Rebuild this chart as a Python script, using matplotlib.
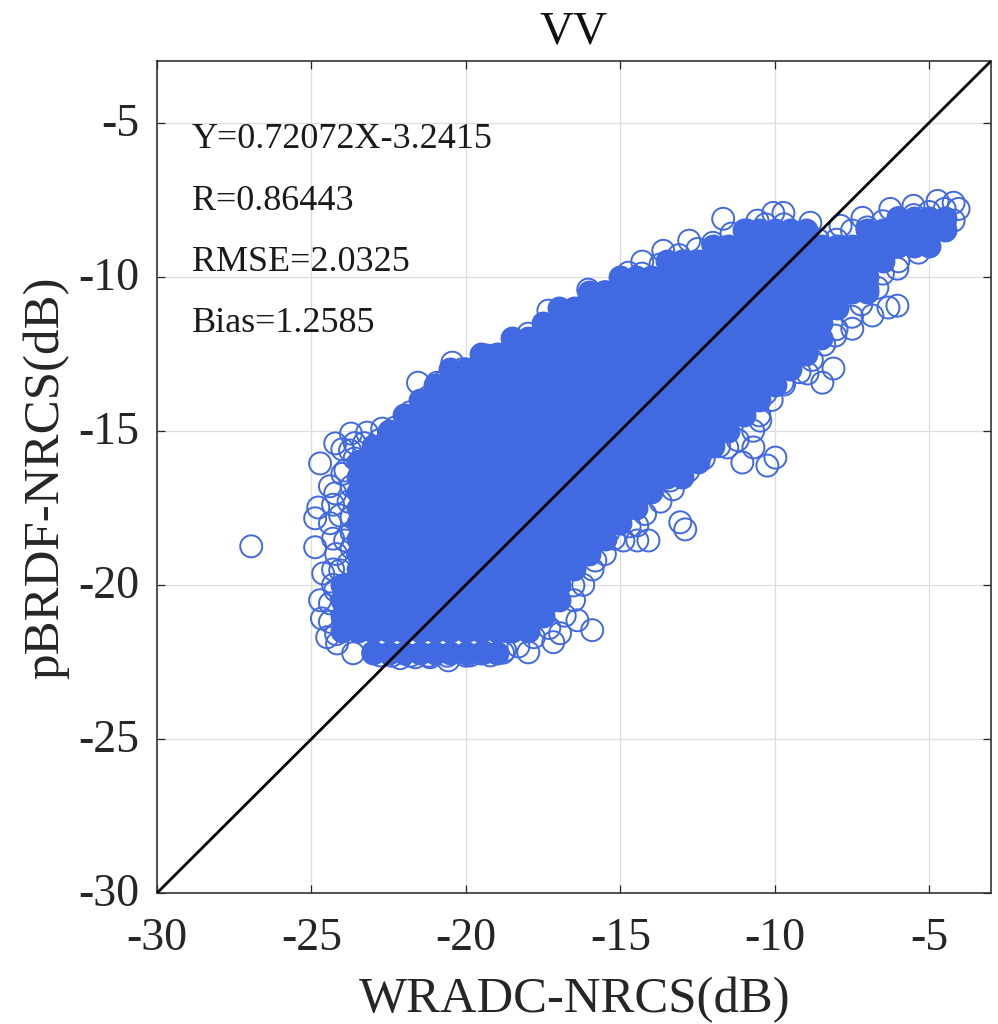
import matplotlib
matplotlib.use("Agg")
import matplotlib.pyplot as plt
from matplotlib.transforms import ScaledTranslation

title = "VV"
xlabel = "WRADC-NRCS(dB)"
ylabel = "pBRDF-NRCS(dB)"
ticks = [-30, -25, -20, -15, -10, -5]
notes = ["Y=0.72072X-3.2415", "R=0.86443", "RMSE=2.0325", "Bias=1.2585"]
note_y = [-5.82, -7.82, -9.82, -11.8]
refline = [-30, -3]

# Outer points
edge_x = [-26.95,-24.72,-24.23,-23.72,-23.2,-22.71,-24.23,-24.78,-24.88,-24.88,-24.62,-24.72,-24.66,-24.49,-24.17,-23.65,
          -21.55,-20.44,-20.93,-21.38,-19.31,-18.5,-17.98,-17.33,-16.04,-14.74,-14.29,-13.61,-12.77,-11.67,-10.56,-10.05,
          -9.72,-8.85,-7.87,-7.16,-6.26,-5.51,-4.73,-4.21,-4.05,-4.21,-5.35,-6.03,-6.68,-6.03,-6.32,-6.84,-7.49,-8.04,
          -8.46,-8.94,-9.75,-8.1,-10.3,-10.47,-11.05,-10.24,-9.98,-10.69,-11.54,-12.41,-13.38,-14.09,-14.45,-14.45,-14.9,
          -15.39,-15.81,-16.52,-16.39,-15.91,-16.95,-17.17,-17.98,-18.73,-19.21,-20.57,-21.16,-13.06,-12.9,-17.04,-22.78,
          -22.13,-21.64,-19.86,-23.9,-24.07,-23.91,-24.07,-24.23,-23.75,-23.42]
edge_y = [-18.75,-16.06,-15.41,-15.09,-15.06,-14.93,-17.03,-17.49,-17.84,-18.78,-19.63,-20.5,-21.09,-21.7,-21.9,-22.22,
          -13.44,-12.79,-13.44,-14.02,-12.56,-12.3,-11.85,-11.1,-10.42,-9.87,-9.51,-9.16,-8.83,-8.12,-8.18,-7.93,
          -7.93,-8.25,-8.35,-8.09,-7.8,-7.7,-7.54,-7.6,-7.8,-8.18,-9.22,-9.74,-10.36,-10.94,-11.0,-11.26,-11.69,-11.91,
          -13.44,-13.14,-13.44,-12.98,-13.79,-14.67,-16.03,-16.13,-15.87,-15.54,-15.54,-15.8,-16.61,-18.56,-18.07,-18.56,-18.56,
          -18.3,-19.21,-20.02,-21.15,-21.47,-21.57,-21.86,-22.19,-22.12,-22.29,-22.45,-22.35,-17.97,-18.2,-20.28,-22.29,
          -22.38,-22.35,-22.29,-16.29,-17.75,-18.56,-19.53,-20.18,-15.64,-16.0]

# Second ring of points just inside the outer ones
fringe_x = [-23.3,-22.8,-22.3,-21.8,-21.2,-20.7,-20.1,-19.6,-19,-18.4,-17.9,-17.3,-16.7,-16.1,-15.5,-14.9,-14.3,-13.7,-13.1,-12.5,
            -12,-11.4,-10.9,-10.3,-9.7,-9.2,-8.6,-8,-7.5,-7,-6.5,-6,-5.5,-5,-4.5,
            -4.5,-5,-5.5,-6,-6.5,-7,-7.2,-7.5,-8,-8.4,-8.8,-9.2,-9.7,-10.1,-10.5,-10.7,-11.2,-11.8,-12.3,-12.8,-13.3,-13.7,-14.2,-14.7,
            -15.2,-15.5,-15.9,-16.2,-16.5,-16.8,-17.3,-17.8,-18.3,-18.8,-19.4,-20,-20.6,-21.2,-21.8,-22.4,-23,
            -24.4,-24.3,-24.4,-24.3,-24.2,-24.3,-24.3,-24.4,-24.4,-24.2,-24,-23.6,-24,-23.7,-23.8,-23.7,-23.7,-23.7,-23.8,-23.6]
fringe_y = [-15.4,-15.3,-14.9,-14.4,-13.9,-13.4,-13.0,-12.9,-12.7,-12.5,-12.1,-11.6,-11.3,-10.9,-10.5,-10.2,-9.9,-9.6,-9.3,-9.1,
            -8.9,-8.6,-8.5,-8.3,-8.3,-8.6,-8.8,-8.8,-8.5,-8.4,-8.2,-8.1,-8.0,-7.9,-7.8,
            -8.3,-8.7,-9.0,-9.5,-9.9,-10.4,-10.9,-11.3,-11.7,-12.2,-12.7,-13.1,-13.5,-14,-14.5,-15,-15.3,-15.5,-15.9,-16.3,-16.9,-17.3,-17.7,-18.1,
            -18.5,-19,-19.5,-20,-20.5,-21,-21.4,-21.7,-22,-22.2,-22.2,-22.3,-22.3,-22.3,-22.3,-22.3,-22.2,
            -16.8,-17.4,-18,-18.5,-19,-19.5,-20,-20.6,-21.2,-21.6,-15.6,-15.9,-16.4,-16.8,-17.3,-17.8,-18.3,-18.8,-19.3,-15.4]

# Dense core of the cloud, row by row: pBRDF value -> WRADC values
core = {
 -8.1: [-6,-5.5,-5,-4.5],
 -8.5: [-11,-10.5,-10,-9.5,-9,-7,-6.5,-6,-5.5,-5,-4.5],
 -9.0: [-12,-11.5,-11,-10.5,-10,-9.5,-9,-8.5,-8,-7.5,-7,-6.5,-6,-5.5,-5],
 -9.5: [-13.5,-13,-12.5,-12,-11.5,-11,-10.5,-10,-9.5,-9,-8.5,-8,-7.5,-7,-6.5],
 -10.0: [-15,-14.5,-14,-13.5,-13,-12.5,-12,-11.5,-11,-10.5,-10,-9.5,-9,-8.5,-8,-7.5,-7],
 -10.5: [-16,-15.5,-15,-14.5,-14,-13.5,-13,-12.5,-12,-11.5,-11,-10.5,-10,-9.5,-9,-8.5,-8,-7.5,-7],
 -11.0: [-17,-16.5,-16,-15.5,-15,-14.5,-14,-13.5,-13,-12.5,-12,-11.5,-11,-10.5,-10,-9.5,-9,-8.5,-8],
 -11.5: [-17.5,-17,-16.5,-16,-15.5,-15,-14.5,-14,-13.5,-13,-12.5,-12,-11.5,-11,-10.5,-10,-9.5,-9,-8.5],
 -12.0: [-18.5,-18,-17.5,-17,-16.5,-16,-15.5,-15,-14.5,-14,-13.5,-13,-12.5,-12,-11.5,-11,-10.5,-10,-9.5,-9,-8.5],
 -12.5: [-19.5,-19,-18.5,-18,-17.5,-17,-16.5,-16,-15.5,-15,-14.5,-14,-13.5,-13,-12.5,-12,-11.5,-11,-10.5,-10,-9.5,-9],
 -13.0: [-20.5,-20,-19.5,-19,-18.5,-18,-17.5,-17,-16.5,-16,-15.5,-15,-14.5,-14,-13.5,-13,-12.5,-12,-11.5,-11,-10.5,-10,-9.5],
 -13.5: [-21,-20.5,-20,-19.5,-19,-18.5,-18,-17.5,-17,-16.5,-16,-15.5,-15,-14.5,-14,-13.5,-13,-12.5,-12,-11.5,-11,-10.5,-10],
 -14.0: [-21.5,-21,-20.5,-20,-19.5,-19,-18.5,-18,-17.5,-17,-16.5,-16,-15.5,-15,-14.5,-14,-13.5,-13,-12.5,-12,-11.5,-11,-10.5],
 -14.5: [-22,-21.5,-21,-20.5,-20,-19.5,-19,-18.5,-18,-17.5,-17,-16.5,-16,-15.5,-15,-14.5,-14,-13.5,-13,-12.5,-12,-11.5,-11],
 -15.0: [-22.5,-22,-21.5,-21,-20.5,-20,-19.5,-19,-18.5,-18,-17.5,-17,-16.5,-16,-15.5,-15,-14.5,-14,-13.5,-13,-12.5,-12,-11.5],
 -15.5: [-23,-22.5,-22,-21.5,-21,-20.5,-20,-19.5,-19,-18.5,-18,-17.5,-17,-16.5,-16,-15.5,-15,-14.5,-14,-13.5,-13,-12.5,-12],
 -16.0: [-23.5,-23,-22.5,-22,-21.5,-21,-20.5,-20,-19.5,-19,-18.5,-18,-17.5,-17,-16.5,-16,-15.5,-15,-14.5,-14,-13.5,-13,-12.5],
 -16.5: [-23.5,-23,-22.5,-22,-21.5,-21,-20.5,-20,-19.5,-19,-18.5,-18,-17.5,-17,-16.5,-16,-15.5,-15,-14.5,-14,-13.5,-13],
 -17.0: [-23.5,-23,-22.5,-22,-21.5,-21,-20.5,-20,-19.5,-19,-18.5,-18,-17.5,-17,-16.5,-16,-15.5,-15,-14.5,-14],
 -17.5: [-23.5,-23,-22.5,-22,-21.5,-21,-20.5,-20,-19.5,-19,-18.5,-18,-17.5,-17,-16.5,-16,-15.5,-15,-14.5],
 -18.0: [-23.5,-23,-22.5,-22,-21.5,-21,-20.5,-20,-19.5,-19,-18.5,-18,-17.5,-17,-16.5,-16,-15.5,-15],
 -18.5: [-23.5,-23,-22.5,-22,-21.5,-21,-20.5,-20,-19.5,-19,-18.5,-18,-17.5,-17,-16.5,-16,-15.5],
 -19.0: [-23.5,-23,-22.5,-22,-21.5,-21,-20.5,-20,-19.5,-19,-18.5,-18,-17.5,-17,-16.5,-16],
 -19.5: [-23.5,-23,-22.5,-22,-21.5,-21,-20.5,-20,-19.5,-19,-18.5,-18,-17.5,-17,-16.5],
 -20.0: [-24,-23.5,-23,-22.5,-22,-21.5,-21,-20.5,-20,-19.5,-19,-18.5,-18,-17.5,-17],
 -20.5: [-24,-23.5,-23,-22.5,-22,-21.5,-21,-20.5,-20,-19.5,-19,-18.5,-18,-17.5,-17],
 -21.0: [-24,-23.5,-23,-22.5,-22,-21.5,-21,-20.5,-20,-19.5,-19,-18.5,-18,-17.5],
 -21.5: [-24,-23.5,-23,-22.5,-22,-21.5,-21,-20.5,-20,-19.5,-19,-18.5,-18],
 -22.2: [-23,-22.5,-22,-21.5,-21,-20.5,-20,-19.5,-19],
}

plt.rcParams["font.family"] = ["Liberation Serif", "DejaVu Serif"]
W, H = 998, 1024
fig = plt.figure(figsize=(W / 100, H / 100), dpi=100)
ax = fig.add_axes([157 / W, 1 - 893 / H, (991 - 157) / W, (893 - 61) / H])

blue = "#4169E1"
core_x = [x for row in core.values() for x in row]
core_y = [y for y, row in core.items() for _ in row]
ax.scatter(core_x, core_y, s=250, facecolor=blue, edgecolor=blue, linewidth=1.4, zorder=3)
ax.scatter(fringe_x, fringe_y, s=250, facecolor="none", edgecolor=blue, linewidth=1.4, zorder=3)
ax.scatter(edge_x, edge_y, s=250, facecolor="none", edgecolor=blue, linewidth=1.4, zorder=3)
ax.plot(refline, refline, color="black", lw=2.0, zorder=4)

ax.set_xlim(-30, -3)
ax.set_ylim(-30, -3)
ax.set_xticks(ticks)
ax.set_yticks(ticks)
ax.set_xticklabels([str(t) for t in ticks])
ax.set_yticklabels([str(t) for t in ticks])
ax.grid(True, color="#dddddd", lw=0.9, zorder=0)
ax.set_axisbelow(True)
ax.tick_params(direction="in", length=6, width=0.9, top=True, right=True,
               labelsize=33, colors="#262626")
ax.tick_params(axis="x", pad=18)
ax.tick_params(axis="y", pad=13)
up = ScaledTranslation(0, 3 / 100, fig.dpi_scale_trans)
for lab in ax.get_yticklabels():
    lab.set_transform(lab.get_transform() + up)
for s in ax.spines.values():
    s.set_linewidth(1.2)
    s.set_color("#333333")

for text, y in zip(notes, note_y):
    ax.text(-28.87, y, text, fontsize=26, color="#1a1a1a", va="baseline", ha="left", zorder=5)

fig.text(574 / W, 1 - 43 / H, title, fontsize=34, ha="center", va="baseline", color="#111111")
fig.text(575 / W, 1 - 1012 / H, xlabel, fontsize=36.5, ha="center", va="baseline", color="#262626")
fig.text(58 / W, 1 - 478 / H, ylabel, fontsize=36.7, ha="center", va="baseline",
         rotation=90, rotation_mode="anchor", color="#262626")

fig.savefig("out.png", dpi=100)
